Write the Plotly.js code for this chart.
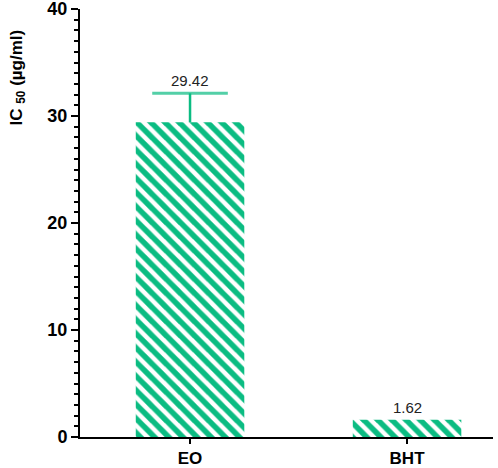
<!DOCTYPE html>
<html>
<head>
<meta charset="utf-8">
<script src="https://cdn.plot.ly/plotly-3.0.1.min.js"></script>
<style>html,body{margin:0;padding:0;background:#fff;}</style>
</head>
<body>
<div id="chart" style="width:498px;height:468px;"></div>
<script>
const groups = ['EO', 'BHT'];
const ic50 = [29.42, 1.62];
const ic50Err = [2.7, 0.0];
const valueLabels = ['29.42', '1.62'];

const green = '#0bbc82';
const font = 'Arial, "Liberation Sans", sans-serif';

const barTrace = {
    x: groups,
    y: ic50,
    type: 'bar',
    width: 0.5,
    marker: {
        color: '#ffffff',
        line: { width: 0 },
        pattern: { shape: '\\', fgcolor: green, fgopacity: 1, bgcolor: '#ffffff', size: 10, solidity: 0.55, fillmode: 'overlay' }
    },
    hoverinfo: 'none'
};

// error bar: stem from the bar top upwards, cap drawn with a line marker
const errTops = ic50.map((v, i) => v + ic50Err[i]);
const errTrace = {
    x: groups,
    y: errTops,
    type: 'scatter',
    mode: 'markers',
    marker: {
        symbol: 'line-ew',
        size: ic50Err.map(e => e > 0 ? 54 : 0),
        color: green,
        line: { color: green, width: 3 }
    },
    error_y: { type: 'data', symmetric: false, array: [0, 0], arrayminus: ic50Err, visible: true, color: green, thickness: 2.5, width: 0 },
    hoverinfo: 'none'
};

const labelNotes = groups.map((g, i) => ({
    x: g,
    y: errTops[i],
    xref: 'x',
    yref: 'y',
    text: valueLabels[i],
    showarrow: false,
    yanchor: 'bottom',
    yshift: 2,
    font: { family: font, size: 15, color: '#222' }
}));

const layout = {
    width: 498,
    height: 468,
    margin: { l: 80, r: 5, t: 9, b: 31 },
    paper_bgcolor: '#fff',
    plot_bgcolor: '#fff',
    showlegend: false,
    xaxis: {
        range: [-0.507, 1.396],
        showline: true,
        linecolor: '#000',
        linewidth: 2,
        ticks: 'outside',
        ticklen: 5,
        tickwidth: 2,
        tickcolor: '#000',
        showgrid: false,
        zeroline: false,
        tickfont: { family: font, size: 17, color: '#000', weight: 'bold' }
    },
    yaxis: {
        range: [0, 40],
        dtick: 10,
        showline: true,
        linecolor: '#000',
        linewidth: 2,
        ticks: 'outside',
        ticklen: 7,
        tickwidth: 2,
        tickcolor: '#000',
        showgrid: false,
        zeroline: false,
        ticklabeloverflow: 'allow',
        tickfont: { family: font, size: 18, color: '#000', weight: 'bold' },
        minor: { dtick: 1, ticks: 'outside', ticklen: 4, tickwidth: 2, tickcolor: '#000', showgrid: false }
    },
    annotations: labelNotes.concat([{
        x: -0.15,
        y: 0.84,
        xref: 'paper',
        yref: 'paper',
        xanchor: 'center',
        yanchor: 'middle',
        text: 'IC <sub>50</sub> (µg/ml)',
        textangle: -90,
        showarrow: false,
        font: { family: font, size: 17, color: '#000', weight: 'bold' }
    }])
};

Plotly.newPlot('chart', [barTrace, errTrace], layout, { displayModeBar: false, staticPlot: true });
</script>
</body>
</html>
